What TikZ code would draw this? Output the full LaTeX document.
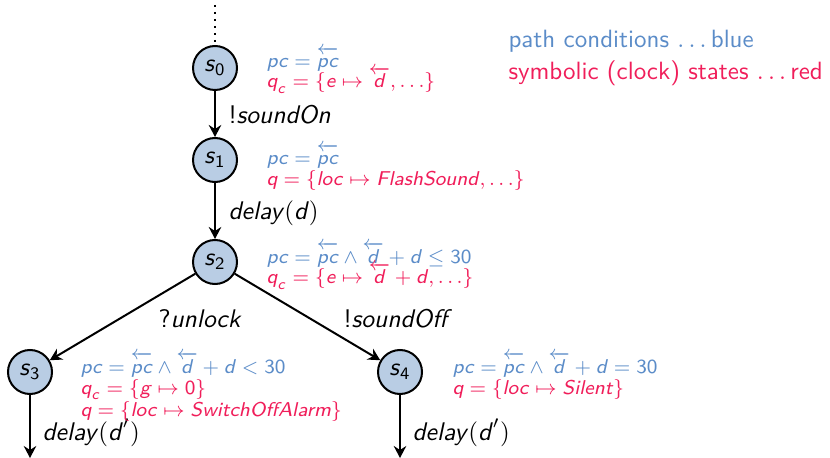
\documentclass[tikz,border=0pt]{standalone}
\usepackage{amsmath}
\usetikzlibrary{arrows.meta}
\definecolor{pblue}{HTML}{5B8CC8}
\definecolor{sred}{HTML}{F01E5A}
\definecolor{nfill}{HTML}{B9CDE4}
\newcommand\mi[1]{\textnormal{\sffamily\itshape #1\/}}
\newcommand\mn[1]{\textnormal{\sffamily #1}}
\newcommand\la[1]{\overleftarrow{\mi{#1}\vphantom{l}}}
\begin{document}
\begin{tikzpicture}[x=0.4pt,y=-0.4pt,font=\sffamily,
  state/.style={circle,draw,thick,fill=nfill,minimum size=17.6pt,inner sep=0pt,font=\sffamily\fontsize{10}{12}\selectfont},
  arr/.style={thick,-{Stealth[length=4.8pt,width=5pt,inset=1.6pt]}},
  elab/.style={anchor=base west,inner sep=0pt,font=\sffamily\fontsize{10.2}{12}\selectfont},
  pcl/.style={anchor=base west,inner sep=0pt,text=pblue,font=\sffamily\fontsize{8}{10}\selectfont},
  qcl/.style={anchor=base west,inner sep=0pt,text=sred,font=\sffamily\fontsize{8}{10}\selectfont},
  legb/.style={anchor=base west,inner sep=0pt,text=pblue,font=\sffamily\fontsize{10}{12}\selectfont},
  legr/.style={anchor=base west,inner sep=0pt,text=sred,font=\sffamily\fontsize{10}{12}\selectfont}]
\useasboundingbox (0,0) rectangle (830,458);
\node[state] (s0) at (215,68) {$\mi{s}_{\mn{0}}$};
\node[state] (s1) at (215,160) {$\mi{s}_{\mn{1}}$};
\node[state] (s2) at (215,262) {$\mi{s}_{\mn{2}}$};
\node[state] (s3) at (30,372) {$\mi{s}_{\mn{3}}$};
\node[state] (s4) at (400,372) {$\mi{s}_{\mn{4}}$};
\coordinate (top) at (215,5);
\coordinate (e3) at (30,458);
\coordinate (e4) at (400,458);
\draw[thick,dotted] (top) -- (s0);
\draw[arr] (s0) -- (s1);
\draw[arr] (s1) -- (s2);
\draw[arr] (s2) -- (s3);
\draw[arr] (s2) -- (s4);
\draw[arr] (s3) -- (e3);
\draw[arr] (s4) -- (e4);
% edge labels
\node[elab] (l01) at (228,124) {$\mn{!}\mi{soundOn}$};
\node[elab] (l12) at (228,220) {$\mi{delay}(\mi{d})$};
\node[elab] (l23) at (158,327) {$\mn{?}\mi{unlock}$};
\node[elab] (l24) at (343,327) {$\mn{!}\mi{soundOff}$};
\node[elab] (l3) at (42,440) {$\mi{delay}(\mi{d}')$};
\node[elab] (l4) at (412,440) {$\mi{delay}(\mi{d}')$};
% info
\node[pcl] (i0a) at (266,68) {$\mi{pc}=\la{pc}$};
\node[qcl] (i0b) at (266,88) {$\mi{q}_{\mi{c}}=\{\mi{e}\mapsto\la{d},\ldots\}$};
\node[pcl] (i1a) at (266,165) {$\mi{pc}=\la{pc}$};
\node[qcl] (i1b) at (266,186) {$\mi{q}=\{\mi{loc}\mapsto \mi{FlashSound},\ldots\}$};
\node[pcl] (i2a) at (266,263) {$\mi{pc}=\la{pc}\wedge\la{d}+\mi{d}\leq \mn{30}$};
\node[qcl] (i2b) at (266,284) {$\mi{q}_{\mi{c}}=\{\mi{e}\mapsto\la{d}+\mi{d},\ldots\}$};
\node[pcl] (i3a) at (80,373) {$\mi{pc}=\la{pc}\wedge\la{d}+\mi{d}<\mn{30}$};
\node[qcl] (i3b) at (80,394) {$\mi{q}_{\mi{c}}=\{\mi{g}\mapsto \mn{0}\}$};
\node[qcl] (i3c) at (80,416) {$\mi{q}=\{\mi{loc}\mapsto \mi{SwitchOffAlarm}\}$};
\node[pcl] (i4a) at (452,373) {$\mi{pc}=\la{pc}\wedge\la{d}+\mi{d}=\mn{30}$};
\node[qcl] (i4b) at (452,394) {$\mi{q}=\{\mi{loc}\mapsto \mi{Silent}\}$};
% legend
\node[legb] (lg1) at (508,48) {path conditions $\ldots$\,blue};
\node[legr] (lg2) at (508,80) {symbolic (clock) states $\ldots$\,red};
\end{tikzpicture}
\end{document}
